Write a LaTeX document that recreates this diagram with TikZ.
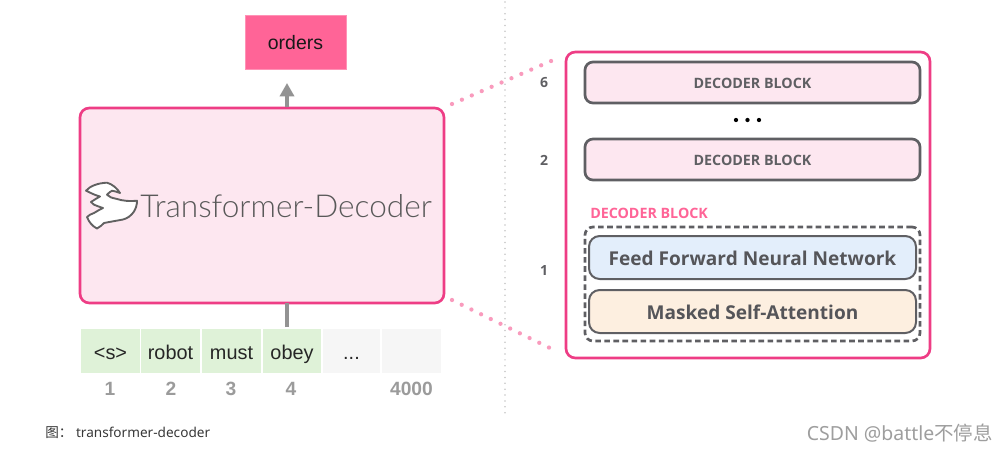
\documentclass[tikz,border=0pt]{standalone}
\usepackage{fontspec}
\setmainfont{Liberation Sans}
\newfontfamily\opensans{Open Sans}
\newfontfamily\lightfont{Lato Light}
\newfontfamily\notosans{Noto Sans}
\newfontfamily\cjk{Noto Sans CJK SC}
\usetikzlibrary{arrows.meta}
\definecolor{hotpink}{HTML}{EE3D85}
\definecolor{paleink}{HTML}{FDE7F0}
\definecolor{ordersfill}{HTML}{FF6497}
\definecolor{cellgreen}{HTML}{DFF2D8}
\definecolor{cellgray}{HTML}{F6F6F6}
\definecolor{slate}{HTML}{5F5F63}
\definecolor{ffnnfill}{HTML}{E3EEFB}
\definecolor{msafill}{HTML}{FDEFE0}
\definecolor{dotpink}{HTML}{F99BBD}
\definecolor{idxgray}{HTML}{9B9B9B}
\tikzset{
  x=0.75pt,y=-0.75pt,
  px box/.style 2 args={minimum width=#1*0.75pt,minimum height=#2*0.75pt,inner sep=0pt,outer sep=0pt,anchor=center},
  pinkframe/.style={draw=hotpink,line width=2pt,rounded corners=7pt},
  stackblock/.style={draw=slate,line width=2pt,rounded corners=6pt,fill=paleink,text=slate,text height=10.7pt,text depth=2.2pt,font=\opensans\bfseries\fontsize{10.7}{12}\selectfont},
  layerblock/.style={draw=slate,line width=1.5pt,rounded corners=8pt,text=slate!90!black,text height=14.8pt,text depth=3pt,font=\opensans\bfseries\fontsize{14.3}{17}\selectfont},
  greencell/.style={fill=cellgreen,text height=15pt,text depth=3pt,font=\fontsize{14.9}{16}\selectfont,text=black!85},
  graycell/.style={fill=cellgray,text height=15pt,text depth=3pt,font=\fontsize{14.9}{16}\selectfont,text=black!85},
  idx/.style={text=idxgray,font=\bfseries\fontsize{14.4}{16}\selectfont},
  stacknum/.style={text=slate,font=\opensans\bfseries\fontsize{10.5}{12}\selectfont},
  flow/.style={draw=idxgray!95!black,line width=3pt},
  zoomdots/.style={draw=dotpink,line width=3.2pt,line cap=round,dash pattern=on 0pt off 8.1pt},
}
\begin{document}
\begin{tikzpicture}
\useasboundingbox (0,0) rectangle (1008,451);
\fill[white] (0,0) rectangle (1008,451);
% divider
\coordinate (divtop) at (505,2);
\coordinate (divbot) at (505,415);
\draw[draw=black!22,line width=1.3pt,line cap=round,dash pattern=on 0pt off 4.4pt] (divtop) -- (divbot);
% left column
\node[px box={101}{54},fill=ordersfill,draw=ordersfill!70!white,line width=.4pt,text height=13.7pt,text depth=3pt,font=\fontsize{14.6}{16}\selectfont,text=black!90] (orders) at (295.5,42) {orders};
\node[px box={364}{195},pinkframe,fill=paleink] (decoder) at (262,205.5) {};
\node[anchor=west,inner sep=0pt,text=black!65,font=\lightfont\fontsize{23.7}{28}\selectfont] (title) at (140,206.5) {Transformer-Decoder};
\draw[draw=black!62,fill=white,line width=1.4pt,line join=round]
  (86,190.7) .. controls (90,186) and (98,183) .. (107,182.7)
  .. controls (112,184) and (117,188) .. (120,193)
  .. controls (116,191.5) and (114,191) .. (112,190.7)
  .. controls (110,191.5) and (109,193) .. (107,194.7)
  .. controls (109,197) and (112,198) .. (116,198.7)
  .. controls (123,201) and (130,201.5) .. (137,200.7)
  .. controls (137,205) and (136,208) .. (134,211.5)
  .. controls (131,216) and (127,218.5) .. (123,219.5)
  .. controls (115,221) and (109,222) .. (104,223)
  .. controls (102,225) and (100,227) .. (97,228.5)
  .. controls (92,226) and (89,222) .. (87,217)
  .. controls (89,215) and (91,214) .. (94,213)
  .. controls (97,211) and (100,209.5) .. (103,208)
  .. controls (100,207) and (97,206) .. (94,204.7)
  -- (91,202)
  .. controls (94,200) and (97,198) .. (100,196.5)
  .. controls (97,195.5) and (95,195) .. (93,194)
  -- cycle;
\node[px box={59}{44},greencell] (c1) at (110.5,351) {<s>};
\node[px box={59}{44},greencell] (c2) at (170.5,351) {robot};
\node[px box={59}{44},greencell] (c3) at (231.5,351) {must};
\node[px box={58}{44},greencell] (c4) at (292,351) {obey};
\node[px box={57}{44},graycell] (c5) at (351.5,351) {...};
\node[px box={59}{44},graycell] (c6) at (411.5,351) {};
\node[idx] (n1) at (110,389) {1};
\node[idx] (n2) at (171,389) {2};
\node[idx] (n3) at (231,389) {3};
\node[idx] (n4) at (291,389) {4};
\node[idx] (n5) at (411.5,389) {4000};
\coordinate (inlow) at (287,327);
\coordinate (intop) at (287,303);
\coordinate (outlow) at (287,107);
\coordinate (outtop) at (287,83);
\draw[flow] (inlow) -- (intop);
\draw[flow,-{Triangle[length=10pt,width=10.5pt]}] (outlow) -- (outtop);
% right column
\node[px box={364}{306},pinkframe,fill=white] (stack) at (748,205) {};
\node[px box={335}{41},stackblock] (b6) at (752.5,82.5) {DECODER BLOCK};
\node[px box={335}{41},stackblock] (b2) at (752.5,159.5) {DECODER BLOCK};
\node[draw=none,inner sep=0pt] (dotsgap) at (747.5,120) {};
\foreach \dx/\nm in {-11.5/d1,0/d2,11.5/d3}
  \fill[black] ([xshift=\dx*0.75pt]dotsgap) circle (1.6pt);
\node[text=ordersfill,font=\opensans\bfseries\fontsize{10.7}{12}\selectfont,anchor=west,inner sep=0pt] (blocktitle) at (590,213.5) {DECODER BLOCK};
\node[px box={335}{114},draw=slate,line width=2pt,dash pattern=on 4.2pt off 2.6pt,rounded corners=6pt] (dashbox) at (752.5,284) {};
\node[px box={327}{43},layerblock,fill=ffnnfill] (ffnn) at (752.5,257.5) {Feed Forward Neural Network};
\node[px box={327}{43},layerblock,fill=msafill] (msa) at (752.5,311.5) {Masked Self-Attention};
\node[stacknum] (s6) at (544,83) {6};
\node[stacknum] (s2) at (544,160) {2};
\node[stacknum] (s1) at (544,270) {1};
% zoom leaders
\coordinate (ztopa) at (452,104);
\coordinate (ztopb) at (558,58);
\coordinate (zbota) at (452,300);
\coordinate (zbotb) at (556,351);
\draw[zoomdots] (ztopa) -- (ztopb);
\draw[zoomdots] (zbota) -- (zbotb);
% captions
\node[anchor=west,inner sep=0pt,text=black!78,font=\notosans\fontsize{10.2}{12}\selectfont] (caption) at (45,433) {{\cjk 图：} transformer-decoder};
\node[anchor=east,inner sep=0pt,text=black!38,font=\notosans\fontsize{14.6}{17}\selectfont] (mark) at (993,433) {CSDN @battle{\cjk 不停息}};
\end{tikzpicture}
\end{document}
